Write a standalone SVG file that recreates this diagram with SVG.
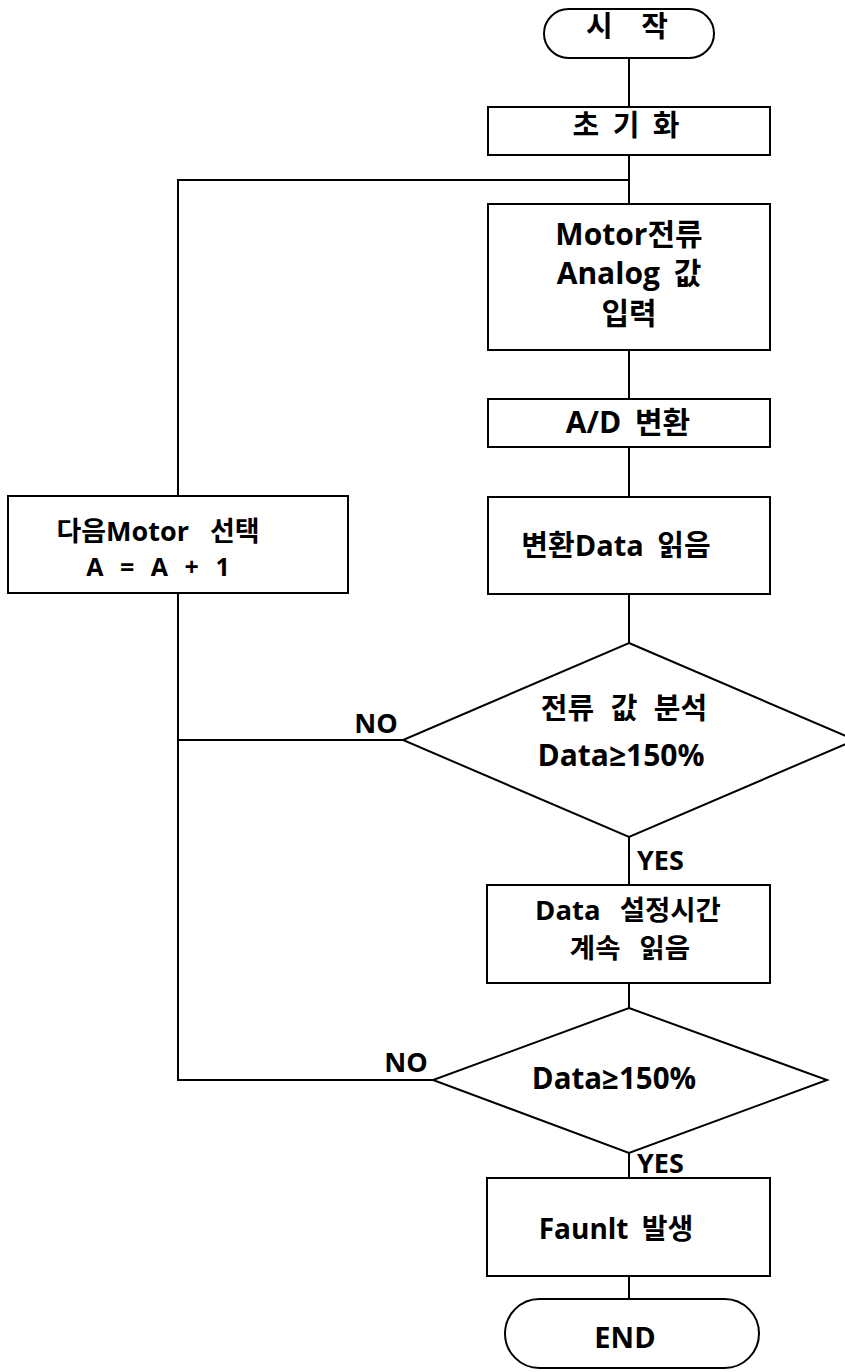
<svg xmlns="http://www.w3.org/2000/svg" width="845" height="1372" viewBox="0 0 845 1372">
<style>
.s{fill:#fff;stroke:#000;stroke-width:2}
.c{fill:none;stroke:#000;stroke-width:2}
text{font-family:"Open Sans","Noto Sans CJK KR",sans-serif;font-weight:bold;fill:#000}
.m{text-anchor:middle}
</style>
<rect width="845" height="1372" fill="#fff"/>
<g id="connectors">
<path class="c" d="M629,58V107M629,155V204M178,496V180H629M629,350V399M629,447V497M629,594V643M403,740H178M178,593V1080H433M629,837V885M629,983V1008M629,1153V1178M629,1276V1299"/>
</g>
<g id="start"><rect class="s" x="544" y="9" width="170" height="49" rx="24.5"/><text class="m" x="627" y="37" font-size="29" word-spacing="21">시 작</text></g>
<g id="init"><rect class="s" x="488" y="107" width="282" height="48"/><text class="m" x="626" y="136" font-size="29" word-spacing="6">초 기 화</text></g>
<g id="input"><rect class="s" x="488" y="204" width="282" height="146"/>
<text class="m" x="629" y="245" font-size="30">Motor전류</text>
<text class="m" x="629" y="284" font-size="30" word-spacing="6">Analog 값</text>
<text class="m" x="629" y="324" font-size="30">입력</text></g>
<g id="adc"><rect class="s" x="488" y="399" width="282" height="48"/><text class="m" x="628" y="433" font-size="30" word-spacing="6">A/D 변환</text></g>
<g id="read"><rect class="s" x="488" y="497" width="282" height="97"/><text class="m" x="616" y="556" font-size="29" word-spacing="6">변환Data 읽음</text></g>
<g id="next"><rect class="s" x="8" y="496" width="340" height="97"/>
<text class="m" x="158" y="541" font-size="27" word-spacing="14">다음Motor 선택</text>
<text class="m" x="158" y="576" font-size="25" word-spacing="10">A = A + 1</text></g>
<g id="dec1"><polygon class="s" points="629,643 855,740 629,837 403,740"/>
<text class="m" x="624" y="719" font-size="29" word-spacing="9">전류 값 분석</text>
<text class="m" x="621" y="766" font-size="30">Data≥150%</text></g>
<g id="hold"><rect class="s" x="487" y="885" width="283" height="98"/>
<text class="m" x="628" y="920" font-size="27.5" word-spacing="12">Data 설정시간</text>
<text class="m" x="630" y="958" font-size="27.5" word-spacing="12">계속 읽음</text></g>
<g id="dec2"><polygon class="s" points="629,1008 827,1080 629,1153 433,1080"/>
<text class="m" x="614" y="1089" font-size="29.5">Data≥150%</text></g>
<g id="fault"><rect class="s" x="487" y="1178" width="283" height="98"/><text class="m" x="616" y="1239" font-size="28" word-spacing="6">Faunlt 발생</text></g>
<g id="end"><rect class="s" x="505" y="1299" width="254" height="69" rx="34.5"/><text class="m" x="625" y="1348" font-size="29">END</text></g>
<g id="labels">
<text class="m" x="376" y="733" font-size="27">NO</text>
<text x="637" y="870" font-size="27">YES</text>
<text class="m" x="406" y="1072" font-size="27">NO</text>
<text x="637" y="1173" font-size="27">YES</text>
</g>
</svg>
